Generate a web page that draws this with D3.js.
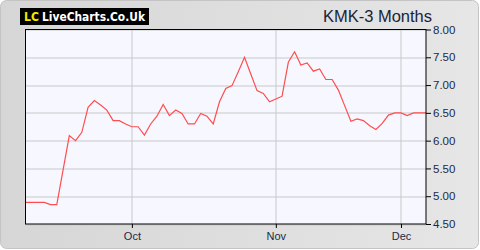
<!DOCTYPE html>
<html>
<head>
<meta charset="utf-8">
<script src="https://cdn.jsdelivr.net/npm/d3@7"></script>
<style>
  html, body { margin: 0; padding: 0; background: #ffffff; }
  svg { display: block; font-family: Arial, "Liberation Sans", sans-serif; }
</style>
</head>
<body>
<div id="chart"></div>
<script>
// ============================================================================
// Data: KMK share price, 3 months of trading days
// ============================================================================

const prices = [
  4.89, 4.89, 4.89, 4.89, 4.85, 4.85, 5.47, 6.09, 6.00, 6.15,
  6.60, 6.72, 6.64, 6.55, 6.36, 6.36, 6.30, 6.25, 6.25, 6.10,
  6.30, 6.44, 6.65, 6.45, 6.55, 6.49, 6.30, 6.30, 6.49, 6.44,
  6.30, 6.70, 6.94, 6.99, 7.24, 7.50, 7.20, 6.90, 6.85, 6.70,
  6.75, 6.80, 7.41, 7.60, 7.36, 7.40, 7.25, 7.29, 7.10, 7.10,
  6.91, 6.63, 6.35, 6.39, 6.36, 6.27, 6.20, 6.31, 6.46, 6.50,
  6.50, 6.45, 6.50, 6.50, 6.50
]

const monthLabels = ["Oct", "Nov", "Dec"]
const monthStarts = [17, 40, 60]     // index of first trading day of month

const yTicks = [4.5, 5.0, 5.5, 6.0, 6.5, 7.0, 7.5, 8.0]

const title = "KMK-3 Months"


// ============================================================================
// Layout
// ============================================================================

const width = 480
const height = 250
const margin = { top: 29.5, right: 54, bottom: 26, left: 25.5 }
const plotW = width - margin.left - margin.right
const plotH = height - margin.top - margin.bottom

const svg = d3.select("#chart")
  .append("svg")
  .attr("width", width)
  .attr("height", height)

// Panel background
const defs = svg.append("defs")
const grad = defs.append("linearGradient")
  .attr("id", "panelGrad")
  .attr("x1", "0").attr("y1", "0")
  .attr("x2", "1").attr("y2", "0")
grad.append("stop").attr("offset", "0%").attr("stop-color", "#d6d6d6")
grad.append("stop").attr("offset", "100%").attr("stop-color", "#e6e6e6")

svg.append("rect")
  .attr("x", 0.5).attr("y", 0.5)
  .attr("width", width - 2).attr("height", height - 2)
  .attr("rx", 6).attr("ry", 6)
  .attr("fill", "url(#panelGrad)")
  .attr("stroke", "#c4c4c4")

// Logo
const logo = svg.append("g").attr("transform", "translate(20,8)")
logo.append("rect")
  .attr("width", 129).attr("height", 17)
  .attr("fill", "#000000")
logo.append("text")
  .attr("x", 4).attr("y", 13)
  .attr("fill", "#f2e600")
  .attr("textLength", 15)
  .attr("lengthAdjust", "spacingAndGlyphs")
  .style("font-family", "'DejaVu Sans', Verdana, sans-serif")
  .style("font-weight", "bold")
  .style("font-size", "12px")
  .text("LC")
logo.append("text")
  .attr("x", 22).attr("y", 13)
  .attr("fill", "#ffffff")
  .attr("textLength", 103)
  .attr("lengthAdjust", "spacingAndGlyphs")
  .style("font-family", "'DejaVu Sans', Verdana, sans-serif")
  .style("font-weight", "bold")
  .style("font-size", "12px")
  .text("LiveCharts.Co.Uk")

// Title
svg.append("text")
  .attr("x", 432).attr("y", 22)
  .attr("text-anchor", "end")
  .attr("fill", "#1b1f3a")
  .style("font-size", "16.5px")
  .text(title)


// ============================================================================
// Scales
// ============================================================================

const x = d3.scaleLinear()
  .domain([0, prices.length - 1])
  .range([0, plotW])

const y = d3.scaleLinear()
  .domain([4.5, 8.0])
  .range([plotH, 0])

const g = svg.append("g")
  .attr("transform", `translate(${margin.left},${margin.top})`)

g.append("rect")
  .attr("width", plotW).attr("height", plotH)
  .attr("fill", "#f7f8ff")

// Gridlines
g.append("g")
  .selectAll("line")
  .data(yTicks)
  .join("line")
  .attr("x1", 0).attr("x2", plotW)
  .attr("y1", d => Math.round(y(d)) + 0.5)
  .attr("y2", d => Math.round(y(d)) + 0.5)
  .attr("stroke", "#c8c8c8")

g.append("g")
  .selectAll("line")
  .data(monthStarts)
  .join("line")
  .attr("x1", d => Math.round(x(d)) + 0.5)
  .attr("x2", d => Math.round(x(d)) + 0.5)
  .attr("y1", 0).attr("y2", plotH)
  .attr("stroke", "#c8c8c8")

// Price line
g.append("path")
  .datum(prices)
  .attr("fill", "none")
  .attr("stroke", "#ff4d4d")
  .attr("stroke-width", 1.2)
  .attr("d", d3.line()
    .x((d, i) => x(i))
    .y(d => y(d)))

// Frame
g.append("rect")
  .attr("width", plotW).attr("height", plotH)
  .attr("fill", "none")
  .attr("stroke", "#000000")


// ============================================================================
// Axes
// ============================================================================

const yAxis = g.append("g")
  .attr("transform", `translate(${plotW},0)`)
  .call(d3.axisRight(y)
    .tickValues(yTicks)
    .tickSize(5)
    .tickPadding(2)
    .tickFormat(d3.format(".2f")))
yAxis.select(".domain").remove()
yAxis.selectAll("line").attr("stroke", "#000")
yAxis.selectAll("text")
  .attr("fill", "#1b2a48")
  .style("font-size", "11.5px")
  .style("font-family", "Arial, 'Liberation Sans', sans-serif")

const xAxis = g.append("g")
  .attr("transform", `translate(0,${plotH})`)
  .call(d3.axisBottom(x)
    .tickValues(monthStarts)
    .tickSize(4)
    .tickPadding(4)
    .tickFormat((d, i) => monthLabels[i]))
xAxis.select(".domain").remove()
xAxis.selectAll("line").attr("stroke", "#000")
xAxis.selectAll("text")
  .attr("fill", "#1b2a48")
  .style("font-size", "11px")
  .style("font-family", "Arial, 'Liberation Sans', sans-serif")
</script>
</body>
</html>
